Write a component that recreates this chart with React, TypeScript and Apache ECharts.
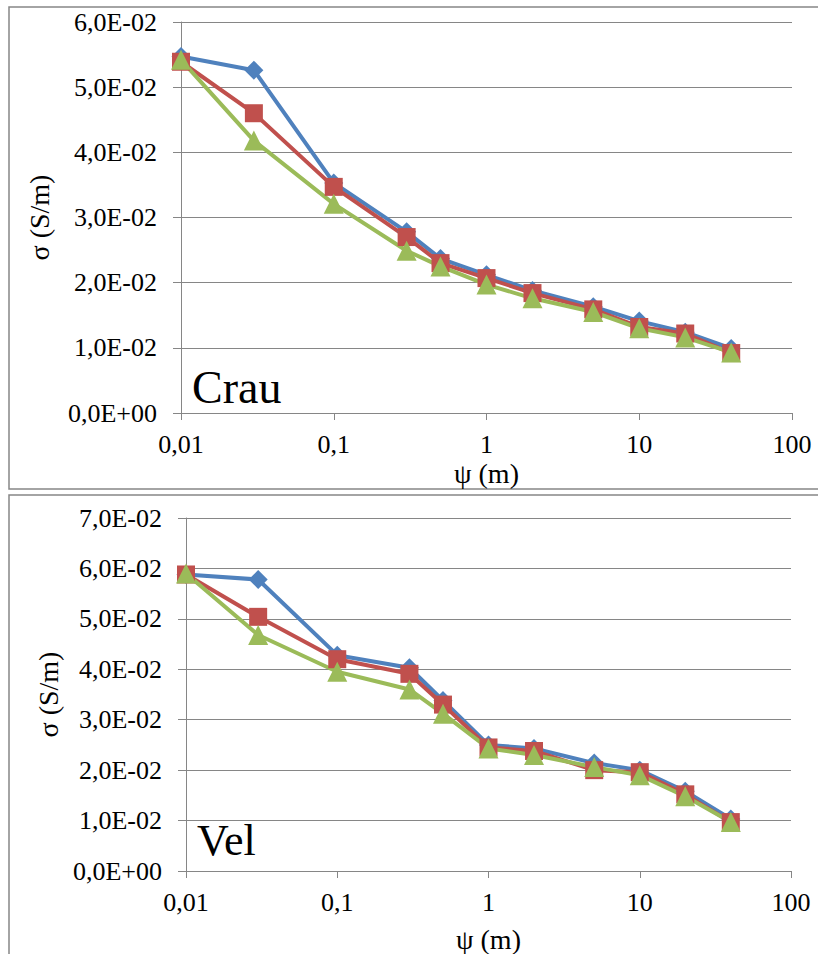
import React, { useEffect, useRef } from "react";
import * as echarts from "echarts";

// Measurement distances ψ (m)
const psi = [0.01, 0.03, 0.1, 0.3, 0.5, 1, 2, 5, 10, 20, 40];

// Conductivity σ (S/m) – Crau site
const crauA = [0.0547, 0.0526, 0.0353, 0.0278, 0.0237, 0.0212, 0.0188, 0.0163, 0.0141, 0.0124, 0.0099];
const crauB = [0.0539, 0.046, 0.0347, 0.027, 0.023, 0.0207, 0.0184, 0.0159, 0.0132, 0.0122, 0.0092];
const crauC = [0.0542, 0.0418, 0.0321, 0.0249, 0.0225, 0.0197, 0.0176, 0.0155, 0.013, 0.0116, 0.0093];

// Conductivity σ (S/m) – Vel site
const velA = [0.0588, 0.0578, 0.0428, 0.0403, 0.0338, 0.025, 0.0243, 0.0214, 0.02, 0.0158, 0.0103];
const velB = [0.0588, 0.0504, 0.042, 0.0391, 0.033, 0.0245, 0.0238, 0.02, 0.0196, 0.0152, 0.0097];
const velC = [0.059, 0.0468, 0.0395, 0.036, 0.0312, 0.0243, 0.023, 0.0206, 0.019, 0.0148, 0.0097];

const panelTitles = ["Crau", "Vel"];
const xAxisTitle = "ψ (m)";
const yAxisTitle = "σ (S/m)";

const FONT = "Liberation Serif";
const GRAY = "#868686";
const COLORS = ["#4F81BD", "#C0504D", "#9BBB59"];
const SYMBOLS: [string, number][] = [
  ["diamond", 19],
  ["rect", 18],
  ["triangle", 20],
];

const sciLabel = (v: number) => {
  const [m, e] = v.toExponential(1).split("e");
  const ei = parseInt(e, 10);
  return m.replace(".", ",") + "E" + (ei < 0 ? "-" : "+") + String(Math.abs(ei)).padStart(2, "0");
};

const logLabel = (v: number) => {
  if (v < 1) return String(+v.toPrecision(1)).replace(".", ",");
  return String(Math.round(v));
};

export default function App() {
  const ref = useRef<HTMLDivElement>(null);

  useEffect(() => {
    if (!ref.current) return;
    const chart = echarts.init(ref.current, undefined, { renderer: "svg" });

    const grids = [
      { left: 181, right: 26, top: 22, height: 391 },
      { left: 186, right: 27, top: 518, height: 353 },
    ];
    const yMax = [0.06, 0.07];
    const xNameGap = [46, 54];
    const yNameGap = [128, 124];

    const xAxes = grids.map((_, i) => ({
      type: "log",
      logBase: 10,
      gridIndex: i,
      min: 0.01,
      max: 100,
      name: xAxisTitle,
      nameLocation: "middle",
      nameGap: xNameGap[i],
      nameTextStyle: { fontFamily: FONT, fontSize: 28, color: "#000" },
      axisLine: { show: true, lineStyle: { color: GRAY, width: 1 } },
      axisTick: { show: true, length: 7, lineStyle: { color: GRAY } },
      minorTick: { show: false },
      splitLine: { show: false },
      axisLabel: {
        fontFamily: FONT,
        fontSize: 26,
        color: "#000",
        margin: 18,
        formatter: logLabel,
      },
    }));

    const yAxes = grids.map((_, i) => ({
      type: "value",
      gridIndex: i,
      min: 0,
      max: yMax[i],
      interval: 0.01,
      name: yAxisTitle,
      nameLocation: "middle",
      nameGap: yNameGap[i],
      nameRotate: 90,
      nameTextStyle: { fontFamily: FONT, fontSize: 28, color: "#000" },
      axisLine: { show: true, lineStyle: { color: GRAY, width: 1 } },
      axisTick: { show: true, length: 8, lineStyle: { color: GRAY } },
      splitLine: { show: true, lineStyle: { color: GRAY, width: 1 } },
      axisLabel: {
        fontFamily: FONT,
        fontSize: 26,
        color: "#000",
        margin: 24,
        formatter: sciLabel,
      },
    }));

    const sets = [
      [crauA, crauB, crauC],
      [velA, velB, velC],
    ];
    const series: any[] = [];
    sets.forEach((group, gi) => {
      group.forEach((vals, si) => {
        series.push({
          type: "line",
          name: `${panelTitles[gi]} ${si + 1}`,
          xAxisIndex: gi,
          yAxisIndex: gi,
          data: psi.map((x, k) => [x, vals[k]]),
          symbol: SYMBOLS[si][0],
          symbolSize: SYMBOLS[si][1],
          showAllSymbol: true,
          lineStyle: { color: COLORS[si], width: 4 },
          itemStyle: { color: COLORS[si], borderWidth: 0 },
          emphasis: { disabled: true },
        });
      });
    });

    chart.setOption({
      animation: false,
      backgroundColor: "#fff",
      textStyle: { fontFamily: FONT },
      grid: grids,
      xAxis: xAxes,
      yAxis: yAxes,
      series,
      graphic: [
        {
          type: "rect",
          shape: { x: 9, y: 7, width: 820, height: 482 },
          style: { fill: "none", stroke: GRAY, lineWidth: 1.5 },
          silent: true,
        },
        {
          type: "rect",
          shape: { x: 9, y: 495, width: 820, height: 480 },
          style: { fill: "none", stroke: GRAY, lineWidth: 1.5 },
          silent: true,
        },
        {
          type: "text",
          x: 192,
          y: 387,
          style: {
            text: panelTitles[0],
            fontFamily: FONT,
            fontSize: 46,
            fill: "#000",
            verticalAlign: "middle",
          },
          silent: true,
        },
        {
          type: "text",
          x: 197,
          y: 840,
          style: {
            text: panelTitles[1],
            fontFamily: FONT,
            fontSize: 44,
            fill: "#000",
            verticalAlign: "middle",
          },
          silent: true,
        },
      ],
    });

    return () => chart.dispose();
  }, []);

  return (
    <div
      ref={ref}
      style={{ position: "absolute", left: 0, top: 0, width: 818, height: 954 }}
    />
  );
}
